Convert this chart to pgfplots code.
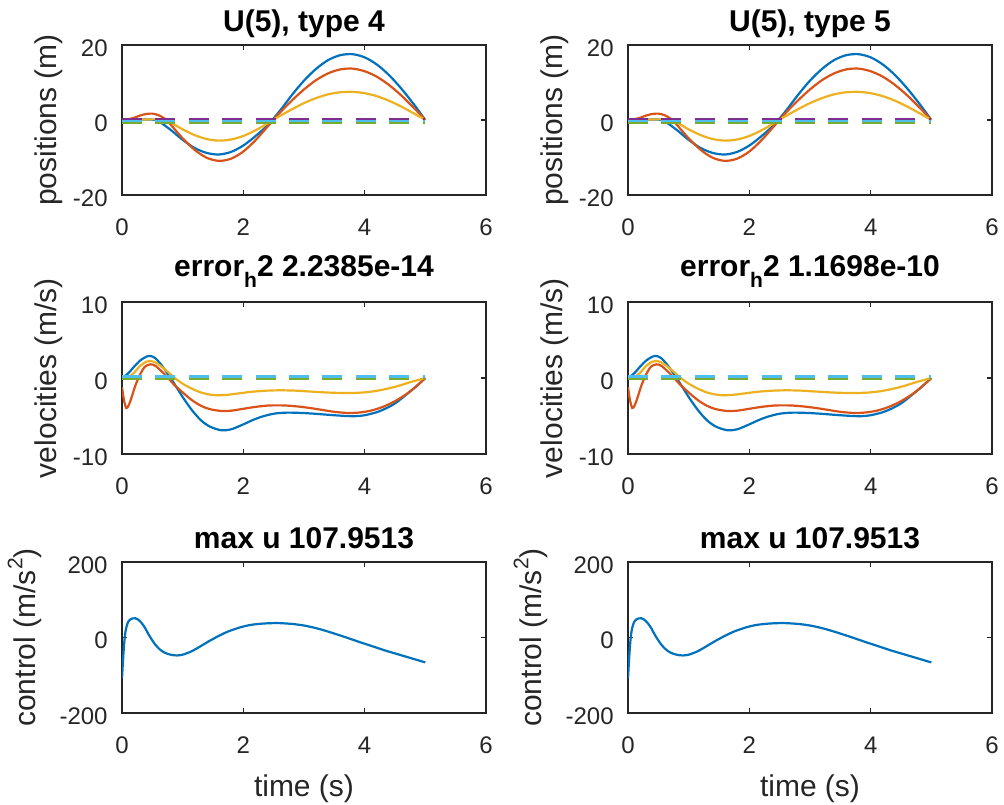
\documentclass[border=0pt]{standalone}
\usepackage{fontspec}
\setmainfont{Liberation Sans}
\usepackage{pgfplots}
\pgfplotsset{compat=1.18}
\usepackage{pgfplotstable}

\definecolor{mblue}{rgb}{0,0.447,0.741}
\definecolor{mred}{rgb}{0.850,0.325,0.098}
\definecolor{myellow}{rgb}{0.929,0.694,0.125}
\definecolor{mpurple}{rgb}{0.494,0.184,0.556}
\definecolor{mgreen}{rgb}{0.466,0.674,0.188}
\definecolor{mcyan}{rgb}{0.301,0.745,0.933}
\definecolor{axgray}{rgb}{0.15,0.15,0.15}

% positions
\pgfplotstableread{
t v
0 0
0.2 0.05
0.4 0.15
0.5 0.1
0.6 -0.3
0.8 -2.6
1.0 -5.3
1.2 -7.5
1.4 -8.8
1.6 -9.2
1.8 -8.5
2.0 -6.8
2.2 -4.3
2.4 -1.4
2.6 2.4
2.8 6.65
3.0 10.5
3.2 13.65
3.4 16.0
3.6 17.3
3.8 17.55
4.0 16.7
4.2 14.8
4.4 12.0
4.6 8.45
4.8 4.4
5.0 0
}\posblue
\pgfplotstableread{
t v
0 0
0.1 0.2
0.2 0.6
0.3 1.2
0.4 1.6
0.5 1.7
0.6 1.3
0.7 0.4
0.8 -1.2
1.0 -4.9
1.2 -8.0
1.4 -10.1
1.6 -10.9
1.8 -10.3
2.0 -8.4
2.2 -5.4
2.4 -1.75
2.6 1.9
2.8 5.2
3.0 8.15
3.2 10.65
3.4 12.45
3.6 13.5
3.8 13.7
4.0 13.0
4.2 11.55
4.4 9.35
4.6 6.6
4.8 3.4
5.0 0
}\posred
\pgfplotstableread{
t v
0 0
0.2 0.05
0.4 0.15
0.6 0.1
0.8 -0.7
1.0 -2.5
1.2 -4.05
1.4 -5.1
1.6 -5.5
1.8 -5.2
2.0 -4.25
2.2 -2.75
2.4 -0.9
2.6 1.05
2.8 2.85
3.0 4.5
3.2 5.85
3.4 6.85
3.6 7.4
3.8 7.5
4.0 7.15
4.2 6.35
4.4 5.15
4.6 3.6
4.8 1.85
5.0 0
}\posyellow

% velocities
\pgfplotstableread{
t v
0 0
0.1 0.6
0.2 1.5
0.3 2.3
0.4 2.8
0.47 2.9
0.55 2.6
0.65 1.7
0.75 0.6
0.85 -0.6
1.0 -2.5
1.15 -4.2
1.3 -5.55
1.45 -6.4
1.64 -6.88
1.8 -6.75
2.0 -6.1
2.15 -5.55
2.3 -5.1
2.5 -4.7
2.7 -4.56
2.9 -4.58
3.1 -4.66
3.3 -4.78
3.5 -4.9
3.7 -5.0
3.85 -5.02
4.0 -4.9
4.2 -4.5
4.35 -4.0
4.5 -3.35
4.7 -2.1
4.85 -1.1
5.0 0
}\velblue
\pgfplotstableread{
t v
0 -1.2
0.03 -2.8
0.07 -3.95
0.11 -3.6
0.16 -2.5
0.22 -1.0
0.3 0.5
0.38 1.5
0.47 1.8
0.55 1.6
0.65 0.9
0.75 0.1
0.85 -0.8
1.0 -1.9
1.15 -2.9
1.3 -3.65
1.45 -4.1
1.64 -4.34
1.8 -4.3
2.0 -4.05
2.2 -3.8
2.4 -3.63
2.55 -3.6
2.7 -3.62
2.9 -3.75
3.1 -3.95
3.3 -4.2
3.5 -4.45
3.72 -4.6
3.9 -4.55
4.1 -4.3
4.3 -3.8
4.5 -3.05
4.7 -2.05
4.85 -1.1
5.0 0
}\velred
\pgfplotstableread{
t v
0 0
0.1 0.1
0.2 0.7
0.3 1.6
0.4 2.15
0.47 2.24
0.55 2.05
0.65 1.5
0.75 0.85
0.87 0
1.0 -0.75
1.15 -1.4
1.3 -1.9
1.45 -2.18
1.58 -2.28
1.75 -2.2
1.95 -2.0
2.15 -1.8
2.4 -1.66
2.62 -1.62
2.85 -1.66
3.1 -1.78
3.35 -1.9
3.6 -1.97
3.75 -1.98
3.95 -1.92
4.15 -1.75
4.35 -1.45
4.55 -1.05
4.75 -0.55
5.0 0
}\velyellow

% control
\pgfplotstableread{
t v
0 -108
0.01 -80
0.02 -52
0.03 -28
0.045 0
0.06 18
0.08 32
0.1 41
0.13 47
0.17 50.5
0.22 51
0.27 47
0.32 39
0.374 27
0.45 5
0.54 -17
0.62 -31
0.7 -40
0.8 -45.5
0.9 -47.5
1.0 -45.5
1.14 -37
1.28 -24.5
1.42 -11
1.58 3
1.75 16
1.95 27
2.13 33.6
2.35 37.2
2.57 38.2
2.8 36
3.01 31.5
3.23 23.5
3.45 13
3.67 1.5
3.89 -10.6
4.11 -22.3
4.33 -34
4.55 -44.5
4.77 -55
5.0 -66
}\ctrl

\pgfplotsset{
  mstyle/.style={
    scale only axis, width=182pt, anchor=south west,
    xmin=0, xmax=6, xtick={0,2,4,6}, xticklabels={0,2,4,6},
    axis line style={axgray, line width=0.6pt},
    every tick/.style={axgray, line width=0.6pt},
    major tick length=2.5pt,
    tick label style={font=\fontsize{12}{14}\selectfont, text=axgray},
    xticklabel style={anchor=base, inner sep=0pt, yshift=-20pt},
    yticklabel style={anchor=east, inner sep=0pt, xshift=-7pt, yshift=-1.5pt},
    every axis title/.style={anchor=base, yshift=0pt, font=\fontsize{15}{18}\selectfont\bfseries, text=black},
    ylabel style={anchor=base, font=\fontsize{15}{18}\selectfont, text=axgray},
    xlabel style={at={(axis description cs:0.5,-0.55)}, anchor=base, font=\fontsize{15}{18}\selectfont, text=axgray},
    every axis plot/.append style={line width=1.1pt},
  },
  posstyle/.style={mstyle, height=75pt, ymin=-20, ymax=20, ytick={-20,0,20}, yticklabels={-20,0,20},
    ylabel={positions (m)}, ylabel style={at={(axis description cs:-0.181,0.5)}},
    title style={at={(axis description cs:0.5,1.089)}}},
  velstyle/.style={mstyle, height=76pt, ymin=-10, ymax=10, ytick={-10,0,10}, yticklabels={-10,0,10},
    ylabel={velocities (m/s)}, ylabel style={at={(axis description cs:-0.181,0.5)}},
    title style={at={(axis description cs:0.5,1.171)}}},
  ctrlstyle/.style={mstyle, height=75.5pt, ymin=-200, ymax=200, ytick={-200,0,200}, yticklabels={-200,0,200},
    ylabel={control (m/s\raisebox{6.5pt}{\fontsize{10.5}{12}\selectfont 2})},
    ylabel style={at={(axis description cs:-0.238,0.5)}},
    xlabel={time (s)},
    title style={at={(axis description cs:0.5,1.089)}}},
  dashp/.style={line width=1.1pt, dash pattern=on 10pt off 6.7pt},
}

\newcommand{\pospanel}{%
  \addplot[mblue, smooth] table[x=t,y=v]{\posblue};
  \addplot[mred, smooth] table[x=t,y=v]{\posred};
  \addplot[myellow, smooth] table[x=t,y=v]{\posyellow};
  \addplot[mpurple, dashp] coordinates {(0,0.3) (5,0.3)};
  \addplot[mgreen, dashp] coordinates {(0,-0.85) (5,-0.85)};
  \addplot[mcyan, dashp] coordinates {(0,-0.3) (5,-0.3)};
}
\newcommand{\velpanel}{%
  \addplot[mblue, smooth] table[x=t,y=v]{\velblue};
  \addplot[mred, smooth] table[x=t,y=v]{\velred};
  \addplot[myellow, smooth] table[x=t,y=v]{\velyellow};
  \addplot[mpurple, dashp] coordinates {(0,0.05) (5,0.05)};
  \addplot[mgreen, dashp] coordinates {(0,-0.15) (5,-0.15)};
  \addplot[mcyan, dashp] coordinates {(0,0.2) (5,0.2)};
}
\newcommand{\ctrlpanel}{%
  \addplot[mblue, smooth] table[x=t,y=v]{\ctrl};
}

\begin{document}
\begin{tikzpicture}
\path[use as bounding box] (0,0) rectangle (502pt,402pt);

\begin{axis}[posstyle, at={(61pt,304.5pt)}, title={U(5), type 4}]
\pospanel
\end{axis}
\begin{axis}[posstyle, at={(314pt,304.5pt)}, title={U(5), type 5}]
\pospanel
\end{axis}

\begin{axis}[velstyle, at={(61pt,175pt)}, title={error\raisebox{-5.5pt}{\fontsize{10.5}{12}\selectfont h}2 2.2385e-14}]
\velpanel
\end{axis}
\begin{axis}[velstyle, at={(314pt,175pt)}, title={error\raisebox{-5.5pt}{\fontsize{10.5}{12}\selectfont h}2 1.1698e-10}]
\velpanel
\end{axis}

\begin{axis}[ctrlstyle, at={(61pt,45.5pt)}, title={max u 107.9513}]
\ctrlpanel
\end{axis}
\begin{axis}[ctrlstyle, at={(314pt,45.5pt)}, title={max u 107.9513}]
\ctrlpanel
\end{axis}
\end{tikzpicture}
\end{document}
